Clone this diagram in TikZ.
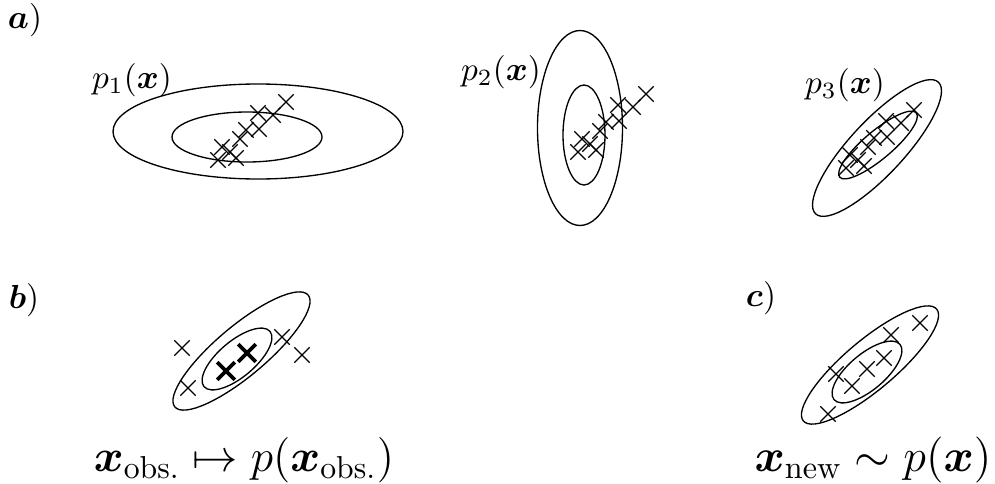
\documentclass[tikz,border=0pt]{standalone}
\usepackage{fix-cm}
\usepackage{amsmath}
\usepackage{bm}
\usetikzlibrary{shapes.misc}

\begin{document}
\begin{tikzpicture}[
        x=0.3pt, y=-0.3pt,
        cont/.style={draw, line width=0.4pt},
        smp/.style={cross out, draw, line width=0.4pt, minimum size=4.2pt, inner sep=0pt},
        obs/.style={cross out, draw, line width=1.1pt, minimum size=4.2pt, inner sep=0pt},
        lbl/.style={inner sep=0pt}
      ]
        \useasboundingbox (0,0) rectangle (995,484);
        % panel labels
        \node[lbl] (la) at (25,20)   {$\bm{a})$};
        \node[lbl] (lb) at (24,300)  {$\bm{b})$};
        \node[lbl] (lc) at (761,298) {$\bm{c})$};
        % a) three candidate densities
        \draw[cont] (258,131.5) ellipse [x radius=145, y radius=47.5];
        \draw[cont] (247,137) ellipse [x radius=75, y radius=25];
        \node[lbl] (p1) at (132,80) {$p_1(\bm{x})$};
        \draw[cont] (580,128) ellipse [x radius=42.5, y radius=97.5];
        \draw[cont] (584,135) ellipse [x radius=21, y radius=50];
        \node[lbl] (p2) at (501,72) {$p_2(\bm{x})$};
        \draw[cont, rotate around={47:(877,148)}] (877,148) ellipse [x radius=90, y radius=27];
        \draw[cont, rotate around={40:(878,145)}] (878,145) ellipse [x radius=50, y radius=14];
        \node[lbl] (p3) at (845,85) {$p_3(\bm{x})$};
        % same data in each panel
        \foreach \sx/\sy/\tag in {0/0/A, 360/-8/B, 628/8/C}
          \foreach \x/\y [count=\i] in {286/102, 273/115, 258/113, 259/129, 246/130,
                                       240/139, 230/152, 236/158, 218/160, 222/147}
            \node[smp] (s\tag\i) at (\x+\sx,\y+\sy) {};
        % b) density evaluation
        \draw[cont, rotate around={40:(241.5,351)}] (241.5,351) ellipse [x radius=87, y radius=25];
        \draw[cont, rotate around={40:(237,359)}] (237,359) ellipse [x radius=43, y radius=18];
        \foreach \x/\y [count=\i] in {182/348, 188/388, 282/337, 302/355}
          \node[smp] (b\i) at (\x,\y) {};
        \node[obs] (o1) at (226,371) {};
        \node[obs] (o2) at (247,353) {};
        \node[lbl] (fb) at (244,460) {\fontsize{13.6pt}{16pt}\selectfont $\bm{x}_{\text{obs.}} \mapsto p(\bm{x}_{\text{obs.}})$};
        % c) sampling
        \draw[cont, rotate around={40:(870,365)}] (870,365) ellipse [x radius=87, y radius=25];
        \draw[cont, rotate around={40:(867,372)}] (867,372) ellipse [x radius=43, y radius=18];
        \foreach \x/\y [count=\i] in {920/323, 891/335, 884/358, 867/369, 852/386, 836/374, 828/414}
          \node[smp] (c\i) at (\x,\y) {};
        \node[lbl] (fc) at (873,460) {\fontsize{13.8pt}{16pt}\selectfont $\bm{x}_{\text{new}} \sim p(\bm{x})$};
      \end{tikzpicture}
\end{document}
